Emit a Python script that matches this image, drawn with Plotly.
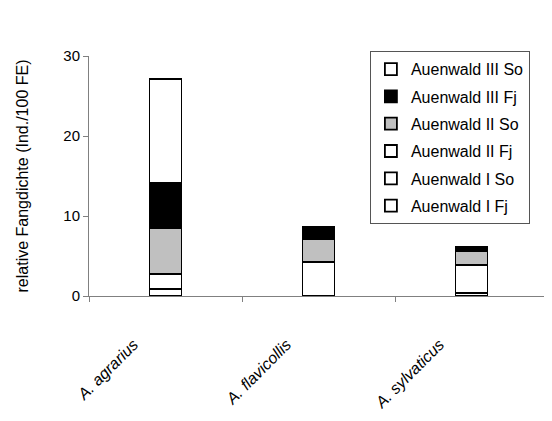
import plotly.graph_objects as go

species = ["<i>A. agrarius</i>", "<i>A. flavicollis</i>", "<i>A. sylvaticus</i>"]

# stacked bottom -> top
series = ["Auenwald I Fj", "Auenwald I So", "Auenwald II Fj",
          "Auenwald II So", "Auenwald III Fj", "Auenwald III So"]
colors = ["#ffffff", "#ffffff", "#ffffff", "#c0c0c0", "#000000", "#ffffff"]

auen_I_fj = [0.85, 4.3, 0.4]
auen_I_so = [1.9, 0.0, 3.45]
auen_II_fj = [0.0, 0.0, 0.0]
auen_II_so = [5.8, 2.8, 1.8]
auen_III_fj = [5.65, 1.6, 0.47]
auen_III_so = [12.9, 0.0, 0.0]

values = [auen_I_fj, auen_I_so, auen_II_fj, auen_II_so, auen_III_fj, auen_III_so]

font = "Arial, Liberation Sans, sans-serif"

fig = go.Figure()
for i, (name, col, vals) in enumerate(zip(series, colors, values)):
    fig.add_trace(go.Bar(
        x=species, y=vals, name=name, legendgroup=name,
        legendrank=100 - i,
        marker=dict(color=col, line=dict(color="black", width=1.8)),
    ))

# page has an 8px body margin, so the figure is drawn a bit smaller
fig.update_layout(
    barmode="stack", bargap=0.79,
    width=544, height=413,
    margin=dict(l=81, r=4, t=48, b=125),
    paper_bgcolor="white", plot_bgcolor="white",
    font=dict(family=font, size=15, color="black"),
    legend=dict(
        x=0.612, y=1.02, xanchor="left", yanchor="top",
        traceorder="grouped", tracegroupgap=3.5, itemwidth=30,
        bordercolor="#555555", borderwidth=1, bgcolor="white",
        font=dict(size=16),
    ),
)
fig.update_yaxes(
    range=[0, 30], tickvals=[0, 10, 20, 30],
    showgrid=False, zeroline=False,
    showline=True, linecolor="#808080", linewidth=1,
    ticks="outside", ticklen=5, tickcolor="#808080",
    tickfont=dict(size=15),
    title=dict(text="relative Fangdichte (Ind./100 FE)", font=dict(size=16), standoff=30),
)
fig.update_xaxes(
    showline=True, linecolor="#808080", linewidth=1,
    ticks="outside", ticklen=5, tickcolor="#808080",
    tickson="boundaries", tickangle=-45,
    ticklabelshift=-32, ticklabelstandoff=32,
    tickfont=dict(size=16),
)

fig.write_html("out.html")
